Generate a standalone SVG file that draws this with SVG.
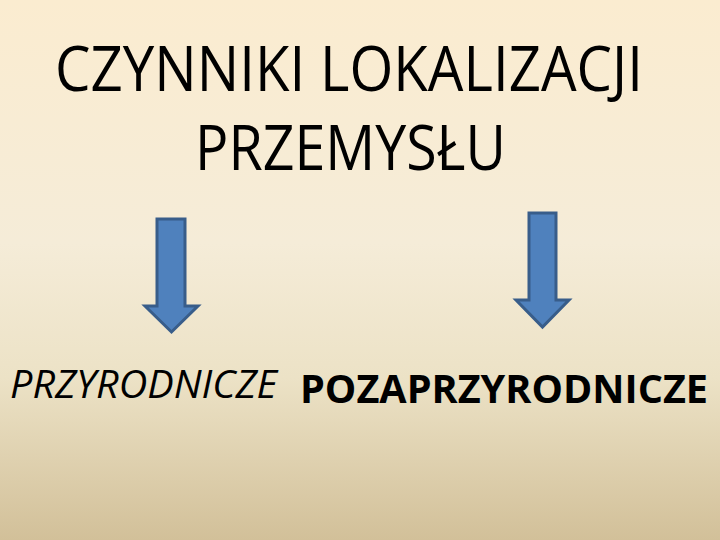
<svg xmlns="http://www.w3.org/2000/svg" width="720" height="540" viewBox="0 0 720 540">
  <defs>
    <linearGradient id="bg" x1="0" y1="0" x2="0" y2="1">
      <stop offset="0" stop-color="#fbecd0"/>
      <stop offset="0.45" stop-color="#f5ecd8"/>
      <stop offset="0.7" stop-color="#ece2c6"/>
      <stop offset="1" stop-color="#d2c099"/>
    </linearGradient>
  </defs>
  <style>
    .t { font-family: "Open Sans", "Noto Sans", "Liberation Sans", sans-serif; fill: #000; }
    .arrow { fill: #4f81bd; stroke: #385d8a; stroke-width: 3; stroke-linejoin: miter; }
  </style>
  <rect x="0" y="0" width="720" height="540" fill="url(#bg)"/>
  <g id="title">
    <text class="t" x="55" y="91" font-size="62" textLength="588" lengthAdjust="spacingAndGlyphs">CZYNNIKI LOKALIZACJI</text>
    <text class="t" x="195" y="170" font-size="62" textLength="311" lengthAdjust="spacingAndGlyphs">PRZEMYSŁU</text>
  </g>
  <g id="connectors">
    <polygon class="arrow" points="157,219 185,219 185,306 198,306 171.5,332 145,306 157,306"/>
    <polygon class="arrow" points="529,213 556,213 556,300 569,300 542.5,327 516,300 529,300"/>
  </g>
  <g id="przyrodnicze">
    <text class="t" x="10" y="398" font-size="39" font-style="italic" textLength="267" lengthAdjust="spacingAndGlyphs">PRZYRODNICZE</text>
  </g>
  <g id="pozaprzyrodnicze">
    <text class="t" x="300" y="403" font-size="40" font-weight="bold" textLength="408" lengthAdjust="spacingAndGlyphs">POZAPRZYRODNICZE</text>
  </g>
</svg>
